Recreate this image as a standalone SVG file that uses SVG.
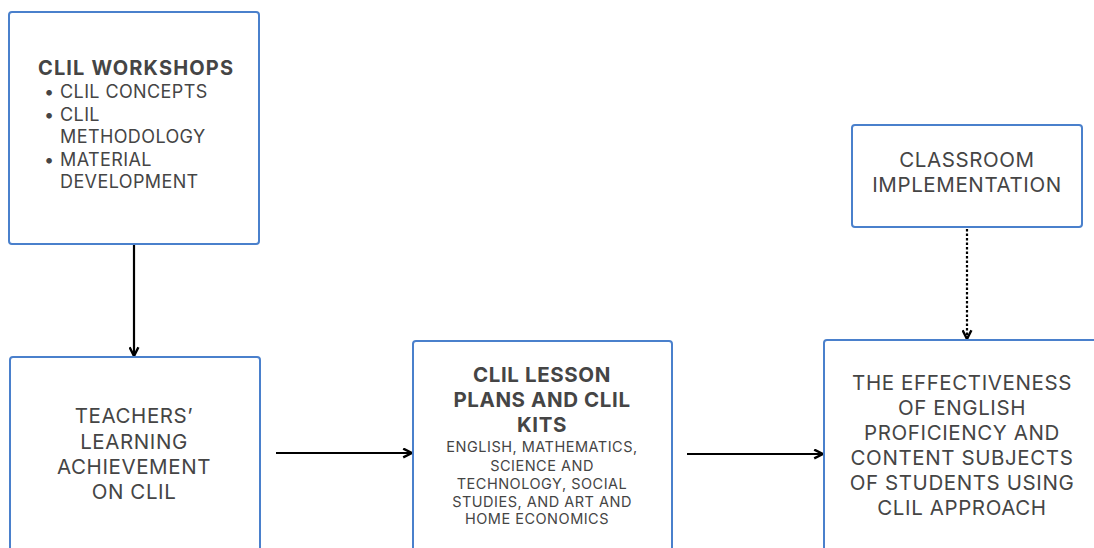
<svg xmlns="http://www.w3.org/2000/svg" width="1094" height="548" viewBox="0 0 1094 548">
<style>
.box{fill:#fff;stroke:#4a80cc;stroke-width:2}
text{font-family:Inter,"Liberation Sans",sans-serif;fill:#454545}
.t{font-size:20.5px;text-anchor:middle;letter-spacing:0.6px}
.b{font-weight:bold}
.s{font-size:14.5px;text-anchor:middle;letter-spacing:0.5px}
.l{font-size:18px;letter-spacing:0.4px}
.c{stroke:#000;stroke-width:2.2;fill:none}
</style>
<defs>
<marker id="ah" viewBox="0 0 10 10" refX="9" refY="5" markerWidth="5" markerHeight="5" orient="auto">
<path d="M1,1 L9,5 L1,9" fill="none" stroke="#000" stroke-width="2.2"/>
</marker>
</defs>
<rect width="1094" height="548" fill="#fff"/>
<g id="connectors">
<line class="c" x1="134" y1="245" x2="134" y2="356" marker-end="url(#ah)"/>
<line class="c" x1="276" y1="453" x2="412" y2="453" marker-end="url(#ah)"/>
<line class="c" x1="687" y1="454" x2="823" y2="454" marker-end="url(#ah)"/>
<line class="c" x1="967" y1="229" x2="967" y2="339" stroke-width="2.6" stroke-dasharray="2.5,2" marker-end="url(#ah)"/>
</g>
<g id="workshops">
<rect class="box" x="9" y="12" width="250" height="232" rx="3"/>
<text class="b" x="38" y="75" font-size="20px" textLength="195" lengthAdjust="spacing">CLIL WORKSHOPS</text>
<text class="l" x="44" y="98">•</text>
<text class="l" x="60" y="98">CLIL CONCEPTS</text>
<text class="l" x="44" y="121">•</text>
<text class="l" x="60" y="121">CLIL</text>
<text class="l" x="60" y="143">METHODOLOGY</text>
<text class="l" x="44" y="166">•</text>
<text class="l" x="60" y="166">MATERIAL</text>
<text class="l" x="60" y="188">DEVELOPMENT</text>
</g>
<g id="classroom">
<rect class="box" x="852" y="125" width="230" height="102" rx="3"/>
<text class="t" x="967" y="167">CLASSROOM</text>
<text class="t" x="967" y="192">IMPLEMENTATION</text>
</g>
<g id="teachers">
<rect class="box" x="10" y="357" width="250" height="210" rx="3"/>
<text class="t" x="134" y="423">TEACHERS’</text>
<text class="t" x="134" y="449">LEARNING</text>
<text class="t" x="134" y="474">ACHIEVEMENT</text>
<text class="t" x="134" y="499">ON CLIL</text>
</g>
<g id="lesson">
<rect class="box" x="413" y="341" width="259" height="220" rx="3"/>
<text class="t b" x="542" y="382" letter-spacing="0.4px">CLIL LESSON</text>
<text class="t b" x="542" y="407" letter-spacing="0.4px">PLANS AND CLIL</text>
<text class="t b" x="542" y="432" letter-spacing="0.4px">KITS</text>
<text class="s" x="542" y="452">ENGLISH, MATHEMATICS,</text>
<text class="s" x="542" y="471">SCIENCE AND</text>
<text class="s" x="542" y="489">TECHNOLOGY, SOCIAL</text>
<text class="s" x="542" y="507">STUDIES, AND ART AND</text>
<text class="s" x="537" y="524">HOME ECONOMICS</text>
</g>
<g id="effectiveness">
<rect class="box" x="824" y="340" width="300" height="230" rx="3"/>
<text class="t" x="962" y="390" letter-spacing="0.3px">THE EFFECTIVENESS</text>
<text class="t" x="962" y="415" letter-spacing="0.3px">OF ENGLISH</text>
<text class="t" x="962" y="440" letter-spacing="0.3px">PROFICIENCY AND</text>
<text class="t" x="962" y="465" letter-spacing="0.3px">CONTENT SUBJECTS</text>
<text class="t" x="962" y="490" letter-spacing="0.3px">OF STUDENTS USING</text>
<text class="t" x="962" y="515" letter-spacing="0.3px">CLIL APPROACH</text>
</g>
</svg>
